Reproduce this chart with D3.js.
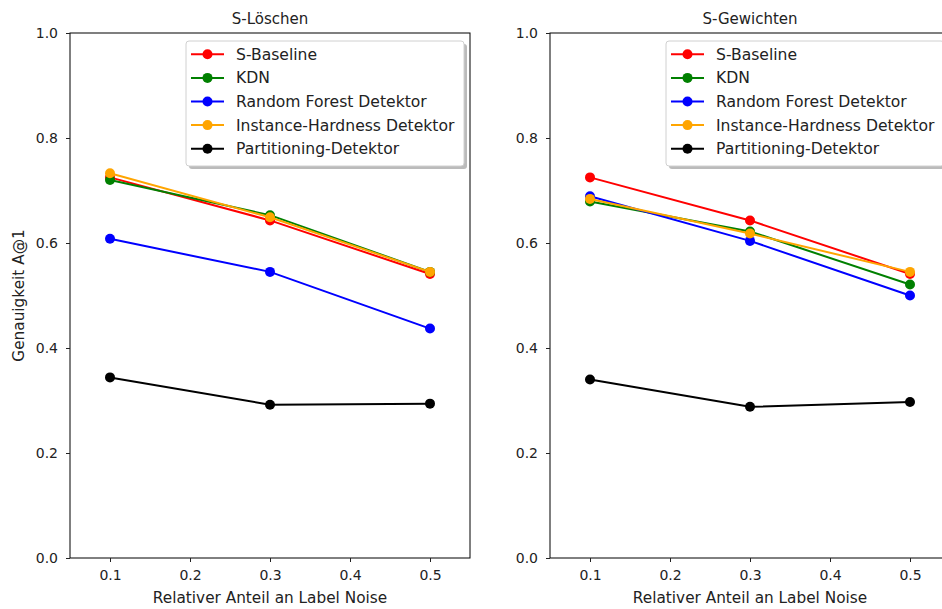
<!DOCTYPE html>
<html>
<head>
<meta charset="utf-8">
<script src="https://cdn.jsdelivr.net/npm/d3@7"></script>
<style>
  body { margin: 0; background: #fff; overflow: hidden; }
  text { font-family: "DejaVu Sans", sans-serif; fill: #222; }
</style>
</head>
<body>
<div id="chart"></div>
<script>
const noise = [0.1, 0.3, 0.5];
const xTicks = [0.1, 0.2, 0.3, 0.4, 0.5];
const yTicks = [0.0, 0.2, 0.4, 0.6, 0.8, 1.0];
const seriesNames = ["S-Baseline", "KDN", "Random Forest Detektor", "Instance-Hardness Detektor", "Partitioning-Detektor"];
const seriesColors = ["red", "green", "blue", "orange", "black"];

const loeschen = [
    [0.725, 0.643, 0.541],
    [0.720, 0.653, 0.545],
    [0.608, 0.545, 0.437],
    [0.733, 0.649, 0.545],
    [0.344, 0.292, 0.294]
];
const gewichten = [
    [0.725, 0.643, 0.541],
    [0.679, 0.622, 0.521],
    [0.689, 0.604, 0.500],
    [0.684, 0.618, 0.545],
    [0.340, 0.288, 0.297]
];

const panels = [
    { title: "S-Löschen", data: loeschen, left: 70, showYLabel: true },
    { title: "S-Gewichten", data: gewichten, left: 550, showYLabel: false }
];

const width = 942, height = 609;
const plotTop = 33, plotBottom = 558, panelWidth = 400;

const svg = d3.select("#chart").append("svg")
    .attr("width", width)
    .attr("height", height);

const yScale = d3.scaleLinear().domain([0, 1]).range([plotBottom, plotTop]);

panels.forEach(p => {
    const xScale = d3.scaleLinear().domain([0.05, 0.55]).range([p.left, p.left + panelWidth]);
    const g = svg.append("g");

    // series
    p.data.forEach((vals, i) => {
        const pts = noise.map((n, j) => ({ x: n, y: vals[j] }));
        g.append("path")
            .datum(pts)
            .attr("fill", "none")
            .attr("stroke", seriesColors[i])
            .attr("stroke-width", 2)
            .attr("d", d3.line().x(d => xScale(d.x)).y(d => yScale(d.y)));
        g.selectAll(null)
            .data(pts)
            .join("circle")
            .attr("cx", d => xScale(d.x))
            .attr("cy", d => yScale(d.y))
            .attr("r", 5)
            .attr("fill", seriesColors[i]);
    });

    // frame
    g.append("rect")
        .attr("x", p.left).attr("y", plotTop)
        .attr("width", panelWidth).attr("height", plotBottom - plotTop)
        .attr("fill", "none").attr("stroke", "#000").attr("stroke-width", 1);

    const xAxis = d3.axisBottom(xScale).tickValues(xTicks).tickFormat(d3.format(".1f")).tickSize(4).tickPadding(8);
    const xg = g.append("g").attr("transform", `translate(0,${plotBottom})`).call(xAxis);
    const yAxis = d3.axisLeft(yScale).tickValues(yTicks).tickFormat(d3.format(".1f")).tickSize(4).tickPadding(8);
    const yg = g.append("g").attr("transform", `translate(${p.left},0)`).call(yAxis);
    [xg, yg].forEach(a => {
        a.select(".domain").remove();
        a.selectAll("text").style("font-size", "14px").attr("fill", "#222");
        a.selectAll("line").attr("stroke", "#222");
    });

    g.append("text")
        .attr("x", p.left + panelWidth / 2).attr("y", 24)
        .attr("text-anchor", "middle").style("font-size", "15px")
        .text(p.title);

    g.append("text")
        .attr("x", p.left + panelWidth / 2).attr("y", 603)
        .attr("text-anchor", "middle").style("font-size", "15.3px")
        .text("Relativer Anteil an Label Noise");

    if (p.showYLabel) {
        g.append("text")
            .attr("transform", `translate(24,${(plotTop + plotBottom) / 2}) rotate(-90)`)
            .attr("text-anchor", "middle").style("font-size", "15.3px")
            .text("Genauigkeit A@1");
    }

    // legend
    const lx = p.left + 116, ly = 41, lw = 278, lh = 125;
    const leg = g.append("g").attr("transform", `translate(${lx},${ly})`);
    leg.append("rect").attr("x", 3).attr("y", 3).attr("width", lw).attr("height", lh)
        .attr("rx", 3).attr("fill", "#bbb");
    leg.append("rect").attr("width", lw).attr("height", lh)
        .attr("rx", 3).attr("fill", "#fff").attr("stroke", "#d0d0d0");
    seriesNames.forEach((name, i) => {
        const yy = 13.3 + i * 23.6;
        leg.append("line").attr("x1", 5).attr("x2", 38).attr("y1", yy).attr("y2", yy)
            .attr("stroke", seriesColors[i]).attr("stroke-width", 2);
        leg.append("circle").attr("cx", 21.5).attr("cy", yy).attr("r", 5).attr("fill", seriesColors[i]);
        leg.append("text").attr("x", 50).attr("y", yy + 5.5)
            .style("font-size", "15.6px").text(name);
    });
});
</script>
</body>
</html>
